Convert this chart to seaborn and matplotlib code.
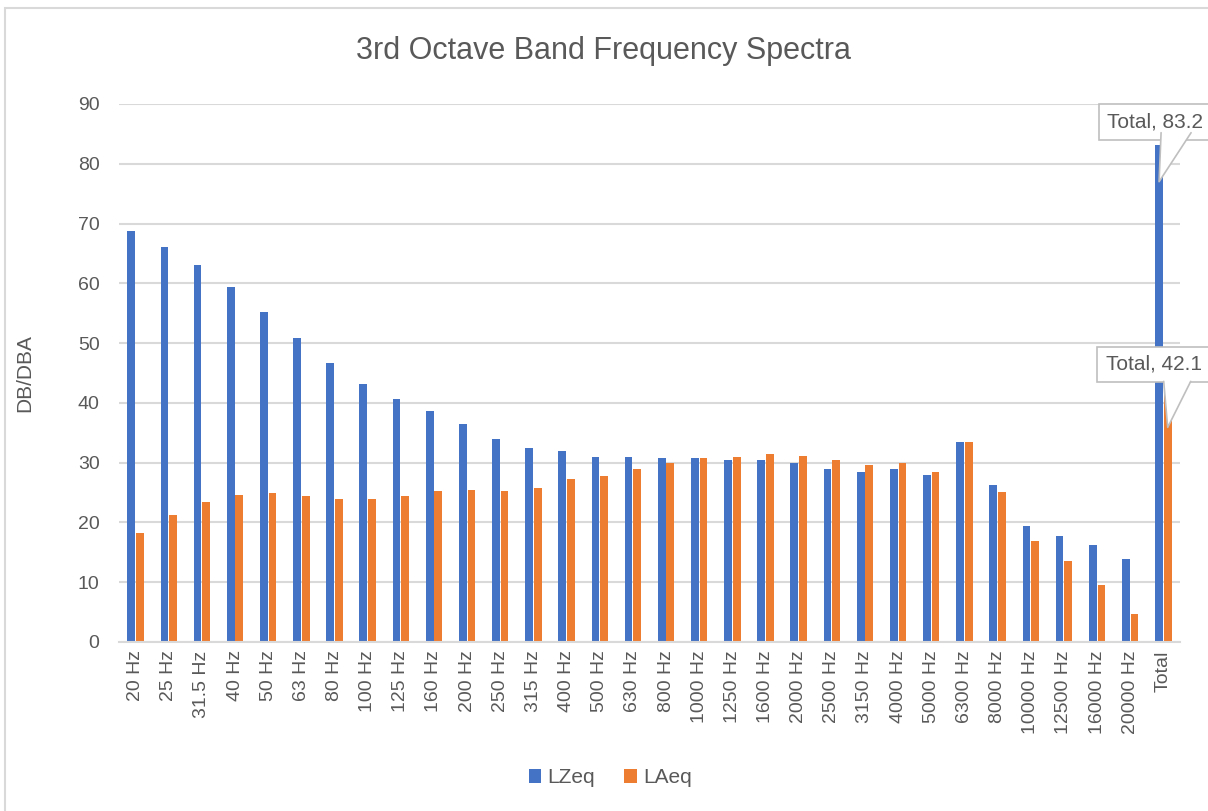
import matplotlib
matplotlib.use("Agg")
import matplotlib.pyplot as plt
import seaborn as sns
import pandas as pd
from matplotlib.patches import Rectangle, Polygon
from matplotlib.lines import Line2D
from matplotlib.transforms import IdentityTransform

bands = ["20 Hz", "25 Hz", "31.5 Hz", "40 Hz", "50 Hz", "63 Hz", "80 Hz", "100 Hz",
         "125 Hz", "160 Hz", "200 Hz", "250 Hz", "315 Hz", "400 Hz", "500 Hz", "630 Hz",
         "800 Hz", "1000 Hz", "1250 Hz", "1600 Hz", "2000 Hz", "2500 Hz", "3150 Hz",
         "4000 Hz", "5000 Hz", "6300 Hz", "8000 Hz", "10000 Hz", "12500 Hz", "16000 Hz",
         "20000 Hz", "Total"]
lzeq = [68.7, 66.1, 63.0, 59.3, 55.2, 50.8, 46.6, 43.1, 40.7, 38.6, 36.5, 33.9, 32.4,
        31.9, 31.0, 30.9, 30.8, 30.7, 30.4, 30.4, 30.0, 29.0, 28.5, 28.9, 27.9, 33.5,
        26.2, 19.4, 17.8, 16.2, 13.9, 83.2]
laeq = [18.2, 21.3, 23.5, 24.6, 25.0, 24.5, 24.0, 24.0, 24.5, 25.2, 25.5, 25.2, 25.8,
        27.2, 27.8, 29.0, 30.0, 30.7, 31.0, 31.4, 31.1, 30.4, 29.6, 29.9, 28.4, 33.5,
        25.1, 16.9, 13.5, 9.5, 4.6, 42.1]
series = ["LZeq", "LAeq"]
colors = ["#4472C4", "#ED7D31"]

df = pd.DataFrame({
    "band": bands * 2,
    "level": lzeq + laeq,
    "series": [series[0]] * len(bands) + [series[1]] * len(bands),
})

sns.set_theme(style="white")
plt.rcParams["font.family"] = ["Liberation Sans", "DejaVu Sans"]

text_gray = "#595959"
grid_gray = "#d9d9d9"
callout_gray = "#bfbfbf"

fig = plt.figure(figsize=(12.08, 8.11), dpi=100)
ax = fig.add_axes([0.0985, 0.2084, 0.8783, 0.6634])

sns.barplot(data=df, x="band", y="level", hue="series", order=bands,
            hue_order=series, palette=colors, width=0.52, gap=0.1,
            saturation=1, linewidth=0, ax=ax, legend=True)

ax.set_ylim(0, 90)
ax.set_yticks(range(0, 91, 10))
ax.yaxis.grid(True, color=grid_gray, linewidth=1.5)
ax.set_axisbelow(True)
for s in ["top", "right", "left"]:
    ax.spines[s].set_visible(False)
ax.spines["bottom"].set_color(grid_gray)
ax.spines["bottom"].set_linewidth(1.5)
ax.tick_params(axis="y", length=0, colors=text_gray, labelsize=14, pad=14)
ax.tick_params(axis="x", length=0, colors=text_gray, labelsize=14, pad=6)
plt.setp(ax.get_xticklabels(), rotation=90)
ax.set_xlabel("")
ax.set_ylabel("DB/DBA", color=text_gray, fontsize=15)
ax.yaxis.set_label_coords(-0.080, 0.5)

fig.suptitle("3rd Octave Band Frequency Spectra", x=0.5, y=0.955,
             fontsize=22, color=text_gray)

leg = ax.legend(loc="lower center", bbox_to_anchor=(0.505, 0.006),
                bbox_transform=fig.transFigure, ncol=2, frameon=False,
                fontsize=15, handlelength=0.6, handleheight=0.6,
                handletextpad=0.3, columnspacing=1.4)
for t in leg.get_texts():
    t.set_color(text_gray)

# Callouts for the two Total bars: box above the bar, wedge pointing into it
fig.canvas.draw()
callouts = [
    # container, value, text offset (px), wedge base span (px, relative to tip), base height (px)
    (ax.containers[0], lzeq[-1], (-4, 60), (2, 32), 49),
    (ax.containers[1], laeq[-1], (-14, 63), (-4, 23), 46),
]
for cont, val, off, span, h in callouts:
    bar = cont.patches[-1]
    cx = bar.get_x() + bar.get_width() / 2
    tx, ty = ax.transData.transform((cx, val - 6.2))
    fig.text(tx + off[0], ty + off[1], f"Total, {val}", transform=IdentityTransform(),
             ha="center", va="center", fontsize=15, color=text_gray, zorder=6,
             bbox=dict(boxstyle="square,pad=0.4", fc="white", ec=callout_gray, lw=1.2))
    pts = [(tx, ty), (tx + span[0], ty + h + 1), (tx + span[1], ty + h + 1)]
    fig.patches.append(Polygon(pts, closed=True, transform=IdentityTransform(),
                               fc="white", ec="none", zorder=7))
    fig.lines.append(Line2D([tx + span[0], tx, tx + span[1]], [ty + h, ty, ty + h],
                            transform=IdentityTransform(), color=callout_gray,
                            lw=1.2, zorder=8))

# Chart-area border (runs past the right and bottom edges)
fig.patches.append(Rectangle((5, -10), 1220, 813 - 8 + 10 - 2, transform=IdentityTransform(),
                             fill=False, ec=grid_gray, lw=1.5))

fig.savefig("out.png", dpi=100)
